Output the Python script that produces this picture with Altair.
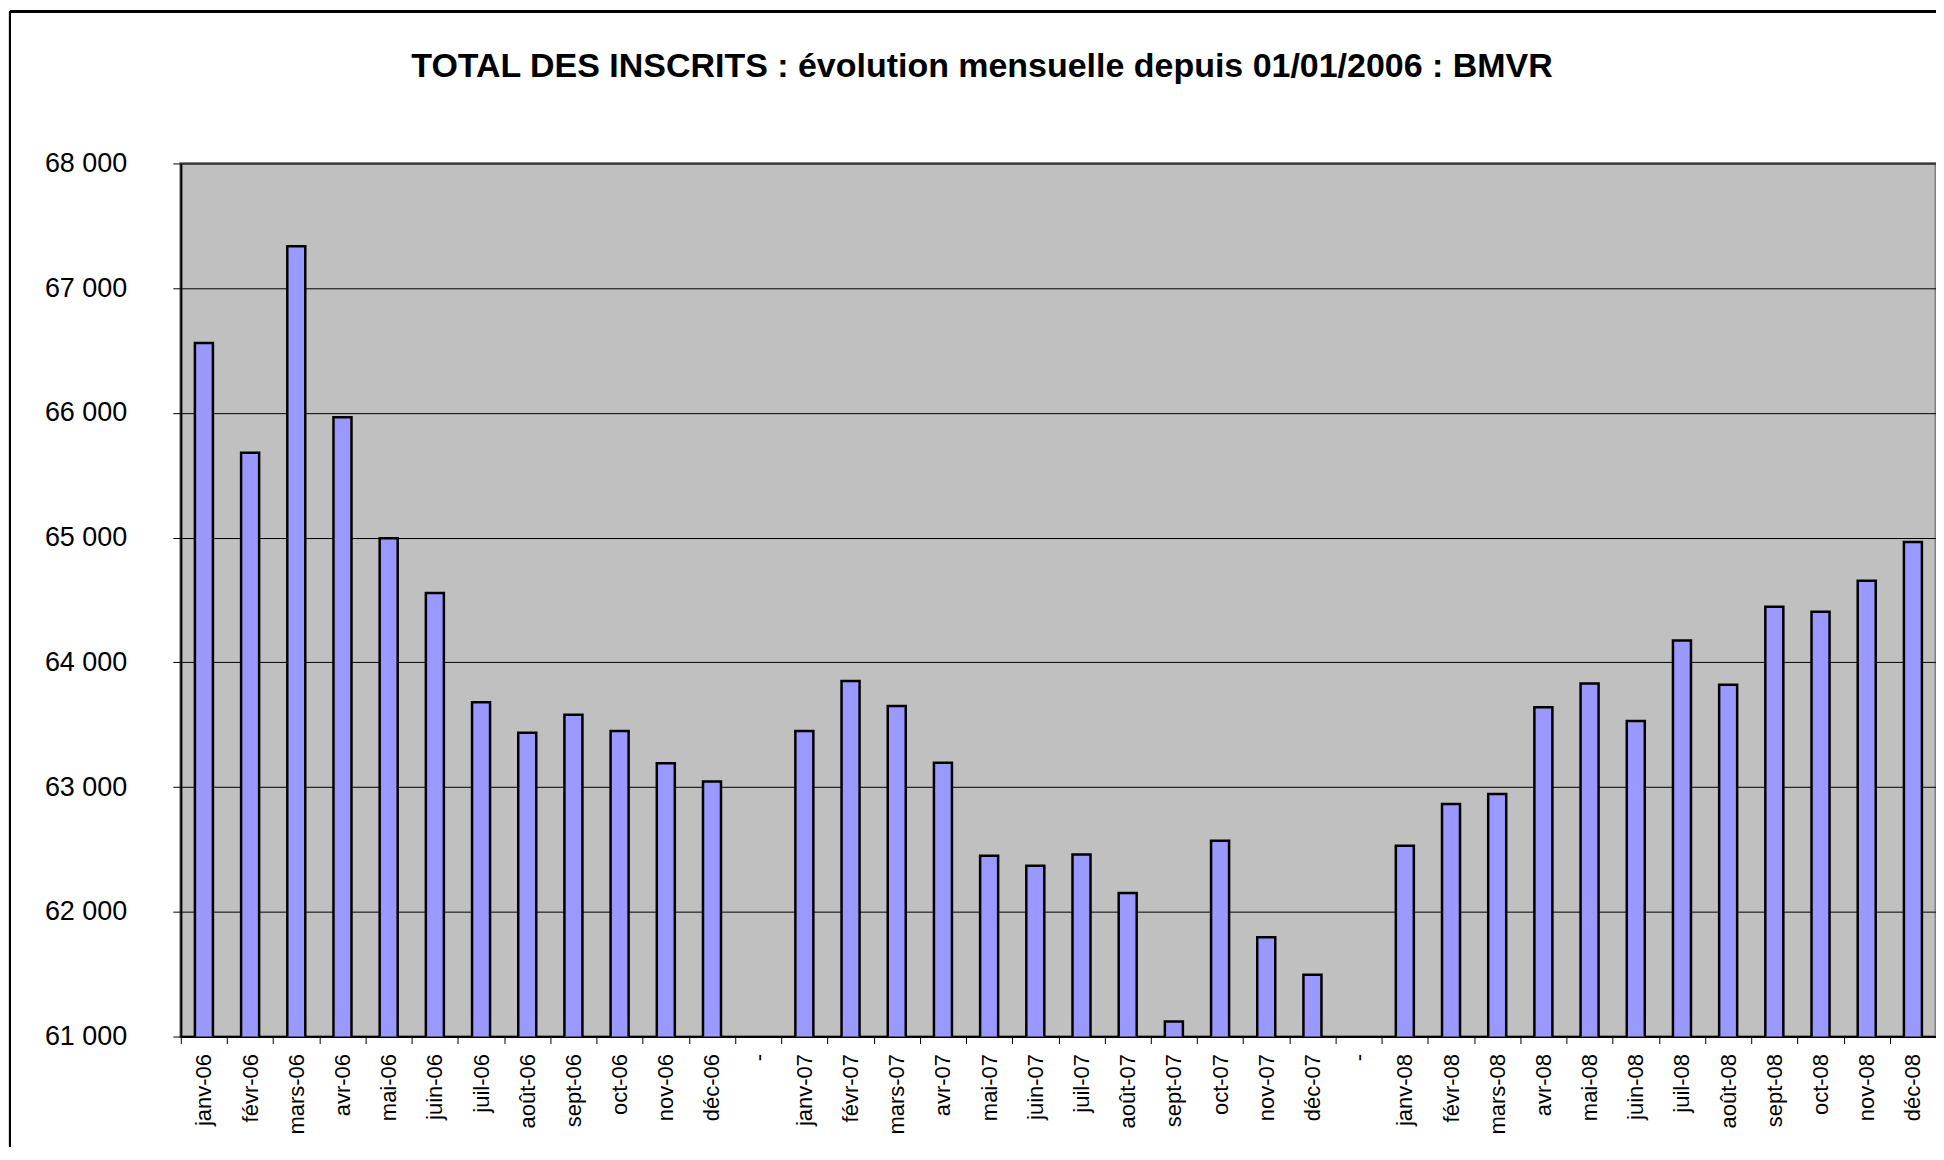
import altair as alt
import pandas as pd

TITLE = "TOTAL DES INSCRITS : évolution mensuelle depuis 01/01/2006 : BMVR"

# Categories (two "-" separators between years)
months_2006 = ["janv-06", "févr-06", "mars-06", "avr-06", "mai-06", "juin-06",
               "juil-06", "août-06", "sept-06", "oct-06", "nov-06", "déc-06"]
months_2007 = ["janv-07", "févr-07", "mars-07", "avr-07", "mai-07", "juin-07",
               "juil-07", "août-07", "sept-07", "oct-07", "nov-07", "déc-07"]
months_2008 = ["janv-08", "févr-08", "mars-08", "avr-08", "mai-08", "juin-08",
               "juil-08", "août-08", "sept-08", "oct-08", "nov-08", "déc-08"]

values_2006 = [66560, 65680, 67335, 65965, 64995, 64555,
               63680, 63435, 63580, 63450, 63190, 63045]
values_2007 = [63450, 63850, 63650, 63195, 62450, 62370,
               62460, 62150, 61120, 62570, 61795, 61495]
values_2008 = [62530, 62865, 62945, 63640, 63830, 63530,
               64175, 63820, 64445, 64405, 64655, 64965]

y_ticks = [61000, 62000, 63000, 64000, 65000, 66000, 67000, 68000]

categories = months_2006 + ["_1"] + months_2007 + ["_2"] + months_2008
values = values_2006 + [None] + values_2007 + [None] + values_2008

df = pd.DataFrame({"mois": categories, "inscrits": values})
df = df.dropna()

FONT = "Liberation Sans"

base = alt.Chart(df)

bars = base.mark_bar(
    color="#9999FF", stroke="black", strokeWidth=2.5, clip=True,
    width=alt.RelativeBandSize(0.39)
).encode(
    x=alt.X("mois:N", sort=categories,
            scale=alt.Scale(domain=categories, paddingInner=0, paddingOuter=0),
            axis=alt.Axis(title=None, labelAngle=-90, labelFontSize=22, labelFont=FONT,
                          labelColor="black", labelPadding=10, tickSize=7,
                          tickColor="black", tickBand="extent", domainColor="black",
                          domainWidth=2, grid=False, labelOverlap=False,
                          labelExpr="substring(datum.value, 0, 1) == '_' ? '-' : datum.value")),
    y=alt.Y("inscrits:Q",
            scale=alt.Scale(domain=[61000, 68000], nice=False, zero=False),
            axis=alt.Axis(title=None, values=y_ticks, labelFontSize=27, labelFont=FONT,
                          labelColor="black", labelPadding=46, tickSize=8,
                          tickColor="black", domainColor="black", domainWidth=2,
                          grid=True, gridColor="black", gridWidth=1,
                          labelExpr="replace(format(datum.value, ','), ',', ' ')")),
)

# outer chart-area frame (top and left edges, as in the reference)
frame_top = base.mark_rule(color="black", strokeWidth=2).encode(
    x=alt.value(-171), x2=alt.value(1770), y=alt.value(-152))
frame_left = base.mark_rule(color="black", strokeWidth=2).encode(
    x=alt.value(-171), y=alt.value(-152), y2=alt.value(1000))

title = alt.Chart(pd.DataFrame({"t": [TITLE]})).mark_text(
    font=FONT, fontSize=34, fontWeight="bold", color="black",
    align="center", baseline="alphabetic"
).encode(text="t:N", x=alt.value(802), y=alt.value(-87))

chart = alt.layer(bars, frame_top, frame_left, title).properties(
    width=1757, height=874,
    background="white",
    autosize=alt.AutoSizeParams(type="none"),
    padding={"left": 173, "top": 155, "right": 0, "bottom": 110},
).configure_view(
    fill="#C0C0C0", stroke="#808080", strokeWidth=3
)

chart.save("out.html", embed_options={"renderer": "svg", "actions": False})
